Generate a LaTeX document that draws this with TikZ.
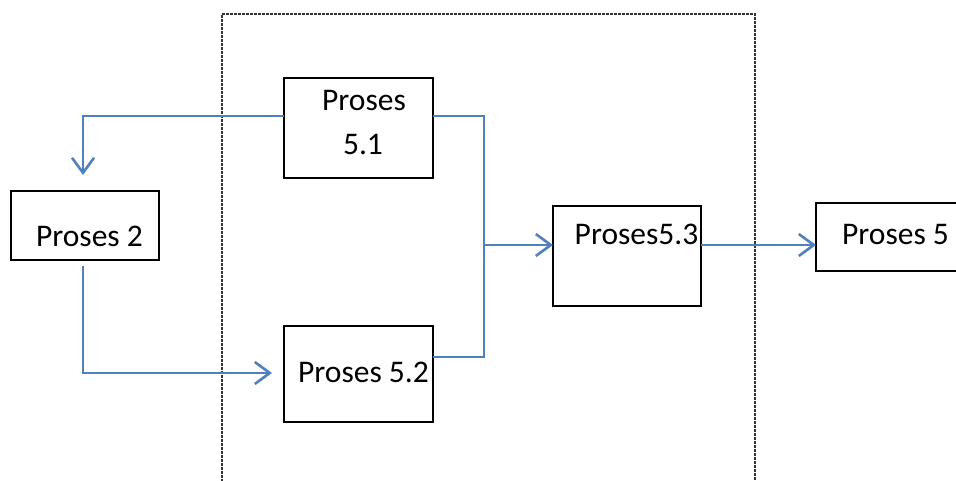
\documentclass[tikz,border=0pt]{standalone}
\usepackage{fontspec}
\setmainfont{Carlito}
\usetikzlibrary{arrows.meta}
\definecolor{flowblue}{HTML}{4F81BD}

\begin{document}
\begin{tikzpicture}[x=1pt,y=-1pt]
	\tikzstyle{every node}=[inner sep=0pt, outer sep=0pt, font=\fontsize{31.5}{38}\selectfont]
	\tikzstyle{box}=[draw, line width=2.4pt, rectangle]
	\tikzstyle{link}=[draw=flowblue, line width=2.6pt]
	\tikzstyle{flow}=[link, -{Straight Barb[length=15pt,width=22pt,line width=2.6pt]}]
	\clip (0,0) rectangle (956,481);
	% dashed frame, open at the bottom
	\draw[line width=1.3pt, dash pattern=on 3pt off 1pt, black!80] (222,490) -- (222,14) -- (755,14) -- (755,490);
	\node (p51) [box, minimum width=149pt, minimum height=100pt] at (358.5,128) {};
	\node (p2) [box, minimum width=148pt, minimum height=69pt] at (85,225.5) {};
	\node (p52) [box, minimum width=149pt, minimum height=96pt] at (358.5,374) {};
	\node (p53) [box, minimum width=148pt, minimum height=100pt] at (627,256) {};
	\node (p5) [box, minimum width=184pt, minimum height=68pt] at (908,237) {};
	\node (t51a) [anchor=base] at (364,111) {Proses};
	\node (t51b) [anchor=base] at (363,155) {5.1};
	\node (t2) [anchor=base] at (89.5,247) {Proses 2};
	\node (t52) [anchor=base] at (363.5,382) {Proses 5.2};
	\node (t53) [anchor=base] at (636.5,244) {Proses5.3};
	\node (t5) [anchor=base] at (895.5,245) {Proses 5};
	\coordinate (jn) at (484,245);
	\draw[flow, shorten >=16pt] ([yshift=12pt]p51.west) -| ([xshift=-2pt]p2.north);
	\draw[flow, shorten <=6pt, shorten >=12pt] ([xshift=-2pt]p2.south) |- ([yshift=1pt]p52.west);
	\draw[link] ([yshift=12pt]p51.east) -| (jn);
	\draw[link] ([yshift=17pt]p52.east) -| (jn);
	\draw[flow] (jn) -- (jn -| p53.west);
	\draw[flow] ([yshift=11pt]p53.east) -- ([yshift=11pt]p53.east -| p5.west);
\end{tikzpicture}
\end{document}
